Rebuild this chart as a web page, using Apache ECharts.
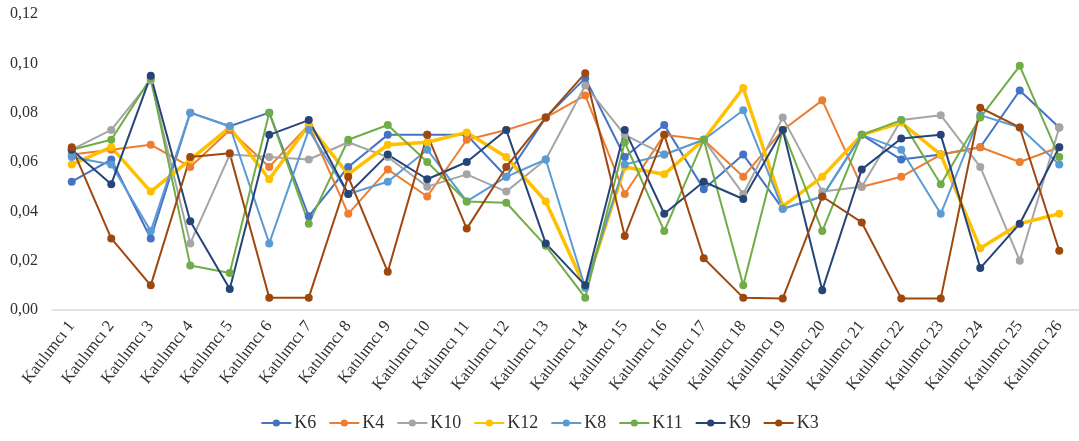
<!DOCTYPE html>
<html>
<head>
<meta charset="utf-8">
<script src="https://cdn.jsdelivr.net/npm/echarts@6/dist/echarts.min.js"></script>
<style>
  html, body { margin: 0; padding: 0; background: #fff; }
  #chart { width: 1079px; height: 441px; }
</style>
</head>
<body>
<div id="chart"></div>
<script>
// Participants on the x axis
const categories = Array.from({ length: 26 }, (_, i) => 'Katılımcı ' + (i + 1));

// Weight of each criterion per participant
const K6  = [0.052, 0.061, 0.029, 0.080, 0.0745, 0.080, 0.038, 0.058, 0.071, 0.071, 0.071, 0.054, 0.078, 0.094, 0.062, 0.075, 0.049, 0.063, 0.041, 0.046, 0.071, 0.061, 0.063, 0.066, 0.089, 0.074];
const K4  = [0.063, 0.065, 0.067, 0.058, 0.073, 0.058, 0.075, 0.039, 0.057, 0.046, 0.069, 0.073, 0.078, 0.087, 0.047, 0.071, 0.069, 0.054, 0.073, 0.085, 0.050, 0.054, 0.063, 0.066, 0.060, 0.066];
const K10 = [0.065, 0.073, 0.093, 0.027, 0.063, 0.062, 0.061, 0.068, 0.062, 0.050, 0.055, 0.048, 0.061, 0.091, 0.071, 0.063, 0.069, 0.047, 0.078, 0.048, 0.050, 0.077, 0.079, 0.058, 0.020, 0.074];
const K12 = [0.059, 0.066, 0.048, 0.061, 0.074, 0.053, 0.075, 0.055, 0.067, 0.068, 0.072, 0.062, 0.044, 0.009, 0.058, 0.055, 0.069, 0.090, 0.042, 0.054, 0.071, 0.076, 0.063, 0.025, 0.035, 0.039];
const K8  = [0.062, 0.059, 0.032, 0.080, 0.0745, 0.027, 0.073, 0.047, 0.052, 0.065, 0.044, 0.054, 0.061, 0.009, 0.059, 0.063, 0.069, 0.081, 0.041, 0.046, 0.071, 0.065, 0.039, 0.079, 0.074, 0.059];
const K11 = [0.065, 0.069, 0.094, 0.018, 0.015, 0.080, 0.035, 0.069, 0.075, 0.060, 0.044, 0.0435, 0.026, 0.005, 0.068, 0.032, 0.069, 0.010, 0.073, 0.032, 0.071, 0.077, 0.051, 0.078, 0.099, 0.062];
const K9  = [0.065, 0.051, 0.095, 0.036, 0.0085, 0.071, 0.077, 0.047, 0.063, 0.053, 0.060, 0.073, 0.027, 0.010, 0.073, 0.039, 0.052, 0.045, 0.073, 0.008, 0.057, 0.0695, 0.071, 0.017, 0.035, 0.066];
const K3  = [0.066, 0.029, 0.010, 0.062, 0.0635, 0.005, 0.005, 0.054, 0.0155, 0.071, 0.033, 0.058, 0.078, 0.096, 0.030, 0.071, 0.021, 0.005, 0.0047, 0.046, 0.0355, 0.0047, 0.0047, 0.082, 0.074, 0.024];

const seriesDefs = [
  { name: 'K6',  data: K6,  color: '#4472C4', width: 2 },
  { name: 'K4',  data: K4,  color: '#ED7D31', width: 2 },
  { name: 'K10', data: K10, color: '#A5A5A5', width: 2 },
  { name: 'K12', data: K12, color: '#FFC000', width: 3.5 },
  { name: 'K8',  data: K8,  color: '#5B9BD5', width: 2 },
  { name: 'K11', data: K11, color: '#70AD47', width: 2 },
  { name: 'K9',  data: K9,  color: '#264478', width: 2 },
  { name: 'K3',  data: K3,  color: '#9E480E', width: 2 }
];

const font = '"Liberation Serif", "DejaVu Serif", serif';

const chart = echarts.init(document.getElementById('chart'), null, { renderer: 'canvas' });
chart.setOption({
  animation: false,
  backgroundColor: '#ffffff',
  grid: { left: 52, top: 14, width: 1034, height: 296, containLabel: false },
  legend: {
    bottom: 4,
    left: 'center',
    itemWidth: 30,
    itemHeight: 9,
    itemGap: 12,
    textStyle: { fontFamily: font, fontSize: 18, color: '#303030', padding: [0, 0, 0, -2] },
    data: seriesDefs.map(s => s.name)
  },
  xAxis: {
    type: 'category',
    data: categories,
    boundaryGap: true,
    axisLine: { lineStyle: { color: '#D9D9D9', width: 1.5 } },
    axisTick: { show: false },
    axisLabel: { rotate: 52, interval: 0, margin: 13, fontFamily: font, fontSize: 16.5, color: '#303030' }
  },
  yAxis: {
    type: 'value',
    min: 0,
    max: 0.12,
    interval: 0.02,
    axisLine: { show: false },
    axisTick: { show: false },
    splitLine: { show: false },
    axisLabel: {
      margin: 14,
      fontFamily: font,
      fontSize: 16,
      color: '#303030',
      formatter: v => v.toFixed(2).replace('.', ',')
    }
  },
  series: seriesDefs.map(s => ({
    name: s.name,
    type: 'line',
    data: s.data,
    symbol: 'circle',
    symbolSize: 8,
    color: s.color,
    lineStyle: { color: s.color, width: s.width },
    itemStyle: { color: s.color }
  }))
});
</script>
</body>
</html>
